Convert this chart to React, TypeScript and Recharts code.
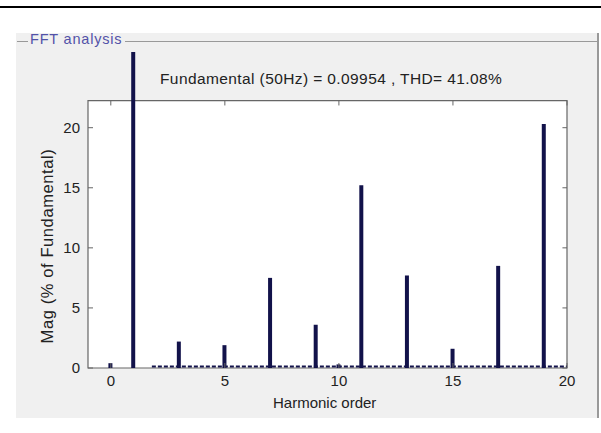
import React from "react";
import {
  ComposedChart,
  Bar,
  XAxis,
  YAxis,
  ReferenceArea,
  ReferenceLine,
} from "recharts";

const harmonics = [0, 1, 3, 5, 7, 9, 10, 11, 13, 15, 17, 19];
const magnitudes = [0.4, 100, 2.2, 1.9, 7.5, 3.6, 0.3, 15.2, 7.7, 1.6, 8.5, 20.3];
const xTicks = [0, 5, 10, 15, 20];
const yTicks = [0, 5, 10, 15, 20];

const data = harmonics.map((h, i) => ({ h, mag: magnitudes[i] }));

const font = "'Liberation Sans', Arial, sans-serif";
const frameTop = 22.25;

export default function App() {
  return (
    <div
      style={{
        position: "absolute",
        left: 0,
        top: 0,
        width: 601,
        height: 433,
        background: "#fff",
        fontFamily: font,
      }}
    >
      <div style={{ position: "absolute", left: 0, top: 6, width: 601, height: 2, background: "#000" }} />
      <div
        style={{
          position: "absolute",
          left: 16,
          top: 33,
          width: 581,
          height: 385,
          background: "#f0f0f0",
          borderRight: "2px solid #999",
        }}
      />
      <div style={{ position: "absolute", left: 17, top: 41, width: 11, height: 1, background: "#999" }} />
      <div style={{ position: "absolute", left: 125, top: 41, width: 473, height: 1, background: "#999" }} />
      <div
        style={{
          position: "absolute",
          left: 30,
          top: 31,
          fontSize: 14.5,
          letterSpacing: 0.8,
          color: "#5252a8",
          whiteSpace: "nowrap",
        }}
      >
        FFT analysis
      </div>
      <div
        style={{
          position: "absolute",
          left: 160,
          top: 70,
          fontSize: 15.5,
          letterSpacing: 0.4,
          color: "#222",
          whiteSpace: "nowrap",
        }}
      >
        Fundamental (50Hz) = 0.09954 , THD= 41.08%
      </div>
      <div
        style={{
          position: "absolute",
          left: 47,
          top: 246,
          fontSize: 16.5,
          letterSpacing: 0.6,
          color: "#222",
          transform: "translate(-50%, -50%) rotate(-90deg)",
          whiteSpace: "nowrap",
        }}
      >
        Mag (% of Fundamental)
      </div>
      <div
        style={{
          position: "absolute",
          left: 273,
          top: 394,
          fontSize: 15,
          color: "#222",
          whiteSpace: "nowrap",
        }}
      >
        Harmonic order
      </div>
      <div style={{ position: "absolute", left: 0, top: 0 }}>
        <ComposedChart
          width={601}
          height={433}
          data={data}
          margin={{ top: 52, right: 34, bottom: 35, left: 58 }}
        >
          <XAxis
            dataKey="h"
            type="number"
            domain={[-1, 20]}
            ticks={xTicks}
            allowDataOverflow
            axisLine={false}
            tickSize={-5}
            tickMargin={12}
            height={30}
            tick={{ fontSize: 15, fill: "#222", fontFamily: font }}
            stroke="#666"
          />
          <YAxis
            type="number"
            domain={[0, 26.3]}
            ticks={yTicks}
            allowDataOverflow
            axisLine={false}
            tickSize={-5}
            tickMargin={13}
            width={30}
            tick={{ fontSize: 15, fill: "#222", fontFamily: font }}
            stroke="#666"
          />
          <ReferenceArea
            x1={-1}
            x2={20}
            y1={0}
            y2={frameTop}
            fill="#fff"
            fillOpacity={1}
            stroke="#666"
            strokeWidth={1.2}
          />
          {xTicks.map((t) => (
            <ReferenceLine
              key={"tx" + t}
              segment={[
                { x: t, y: frameTop },
                { x: t, y: frameTop - 0.4 },
              ]}
              stroke="#666"
            />
          ))}
          {yTicks.map((t) => (
            <ReferenceLine
              key={"ty" + t}
              segment={[
                { x: 20, y: t },
                { x: 19.8, y: t },
              ]}
              stroke="#666"
            />
          ))}
          <ReferenceLine
            segment={[
              { x: 1.8, y: 0.12 },
              { x: 20, y: 0.12 },
            ]}
            stroke="#12124a"
            strokeWidth={2}
            strokeDasharray="4 2"
          />
          <Bar dataKey="mag" fill="#12124a" barSize={4} isAnimationActive={false} />
        </ComposedChart>
      </div>
    </div>
  );
}
